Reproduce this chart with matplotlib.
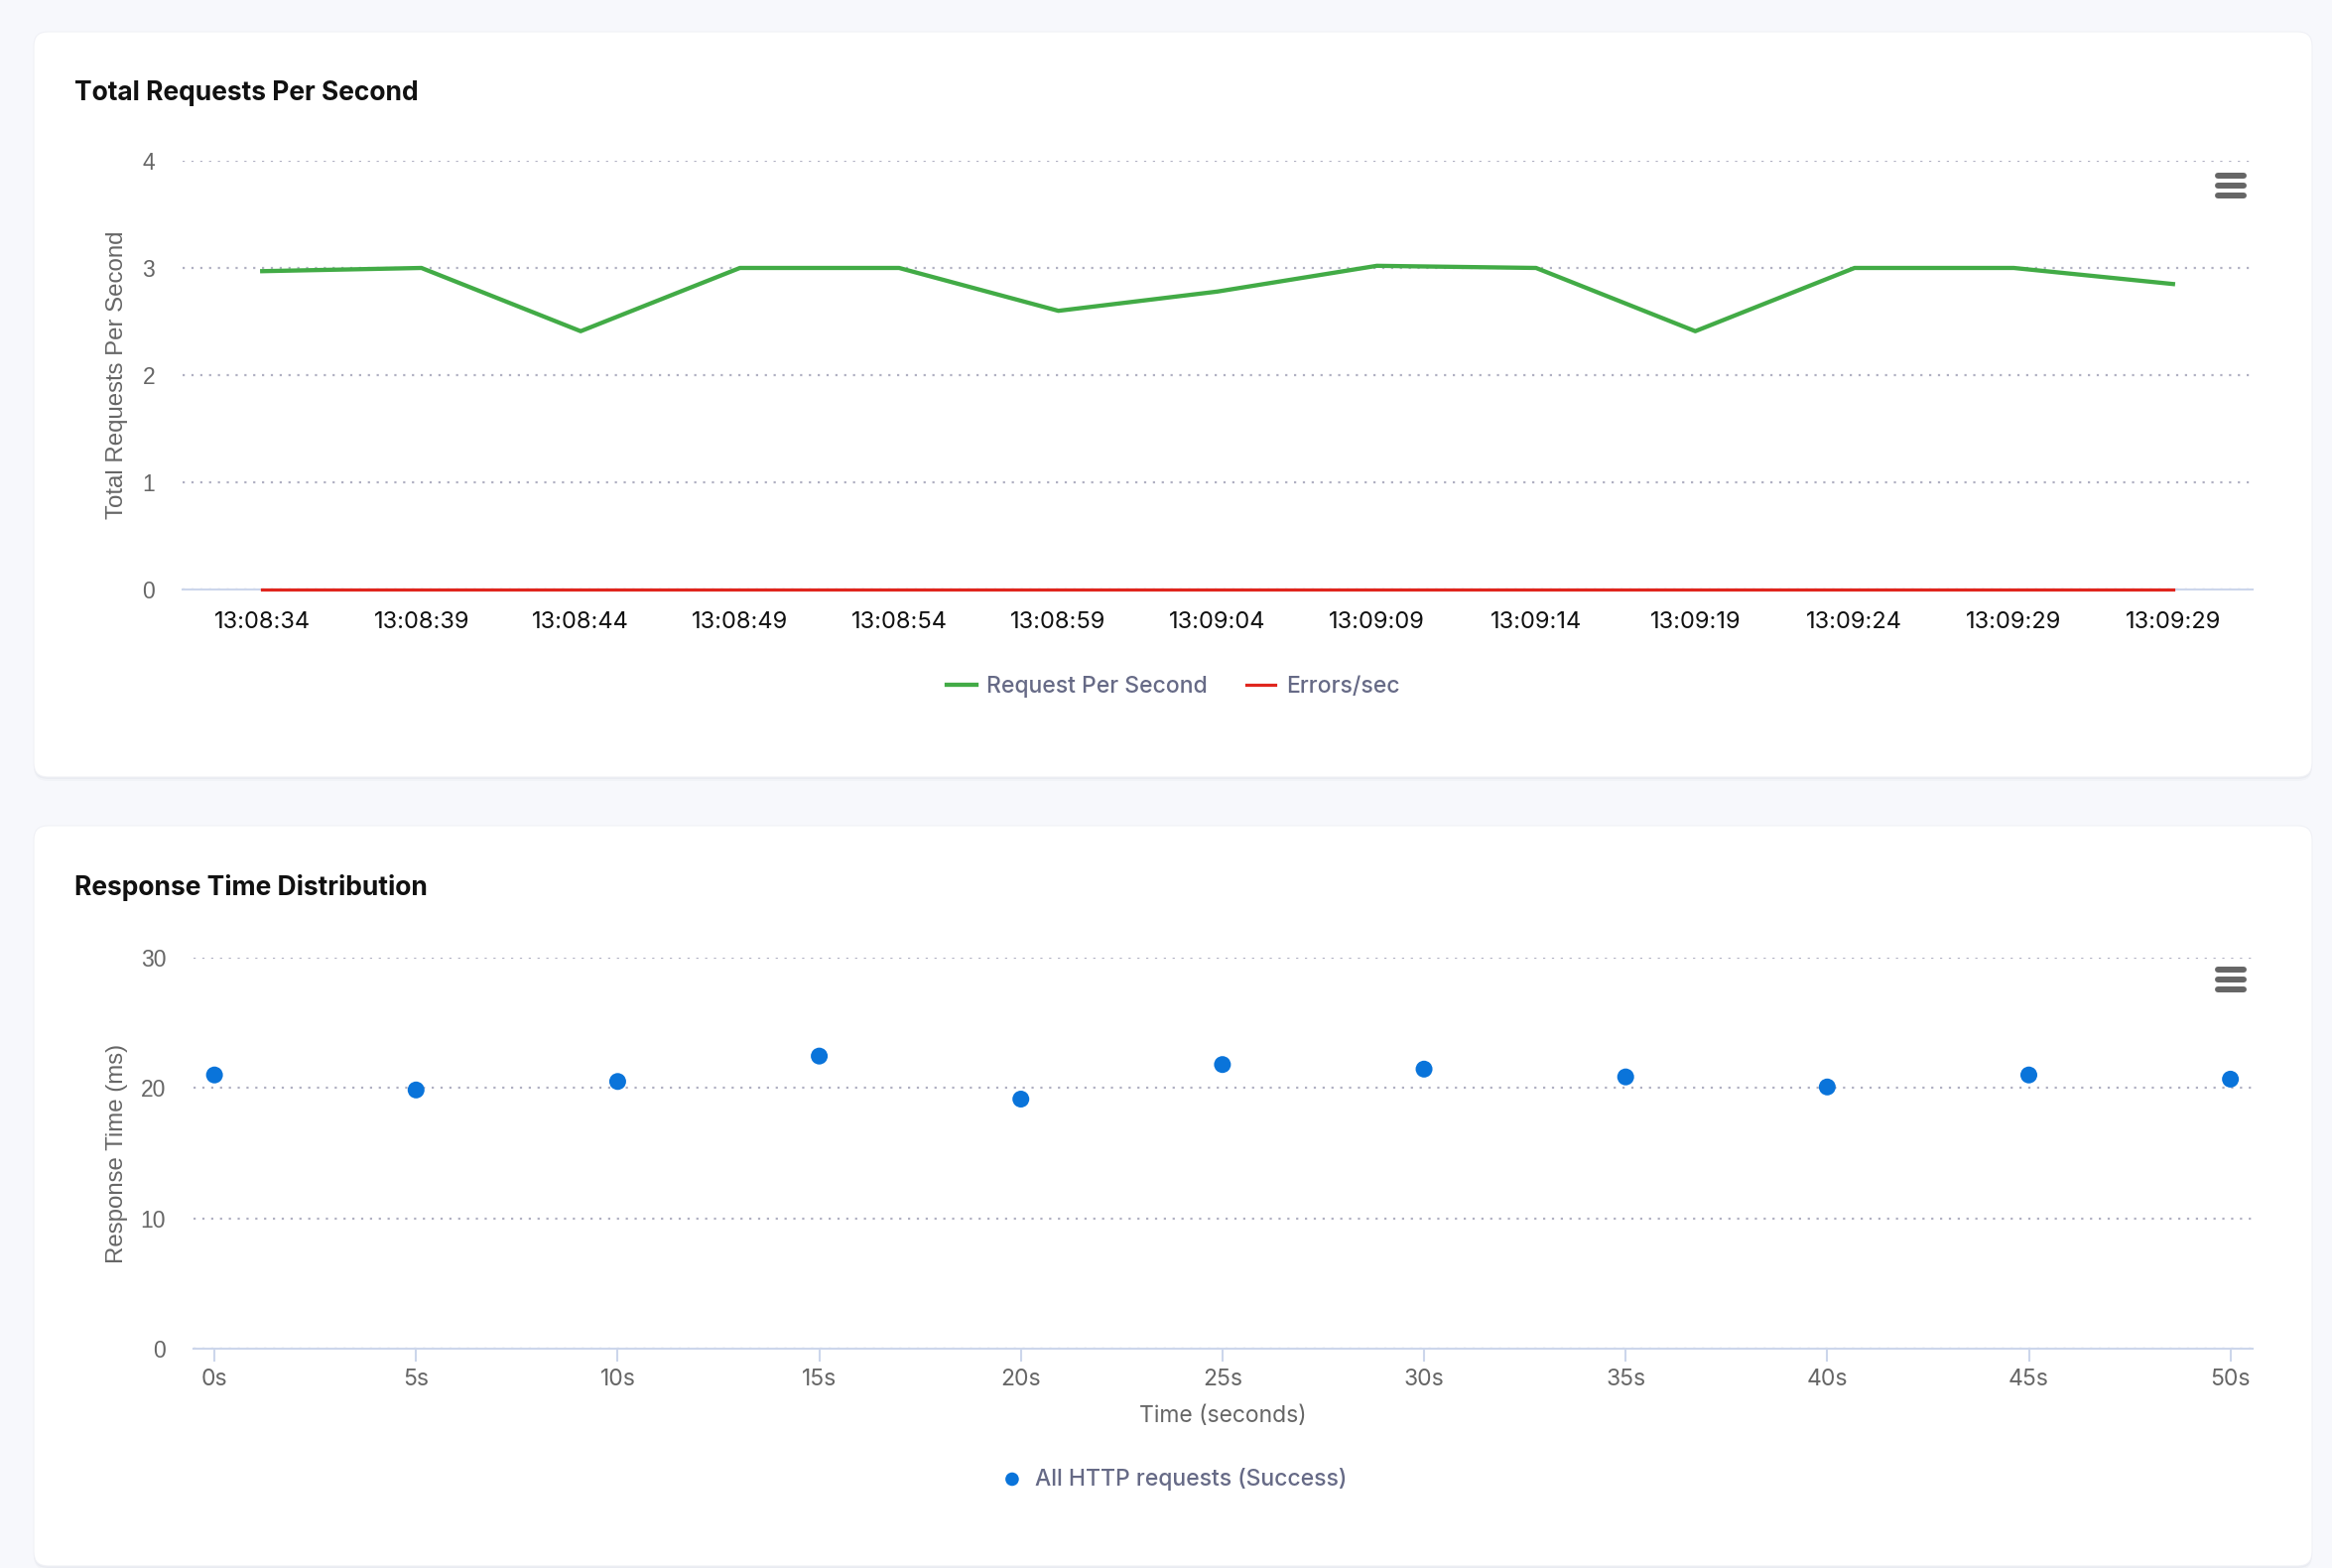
import numpy as np
import matplotlib.pyplot as plt
from matplotlib.patches import FancyBboxPatch
from matplotlib.lines import Line2D

# data
timeLabels = ['13:08:34', '13:08:39', '13:08:44', '13:08:49', '13:08:54', '13:08:59', '13:09:04',
              '13:09:09', '13:09:14', '13:09:19', '13:09:24', '13:09:29', '13:09:29']
reqPerSec = [2.97, 3.0, 2.41, 3.0, 3.0, 2.6, 2.78, 3.02, 3.0, 2.41, 3.0, 3.0, 2.85]
errPerSec = [0, 0, 0, 0, 0, 0, 0, 0, 0, 0, 0, 0, 0]

respSec = [0, 5, 10, 15, 20, 25, 30, 35, 40, 45, 50]
respMs = [21.0, 19.85, 20.5, 22.45, 19.15, 21.8, 21.45, 20.85, 20.08, 21.0, 20.68]

# style
W, H = 2350, 1580
bgCol = '#f7f8fc'
gridCol = '#b0b0c2'
axisCol = '#ccd6eb'
tickCol = '#666666'
legCol = '#666a86'
green = '#42ab46'
red = '#e0261e'
blue = '#0a74da'
font = 'Inter'
labFont = 'Liberation Sans'

fig = plt.figure(figsize=(W / 100, H / 100), dpi=100, facecolor=bgCol)


def px(x, y):
    # pixel (from top-left) -> figure fraction
    return x / W, 1 - y / H


def card(x0, y0, x1, y1):
    for off, a in [(4, 0.025), (2, 0.035)]:
        fx, fy = px(x0, y1 + off)
        sh = FancyBboxPatch((fx, fy), (x1 - x0) / W, (y1 - y0) / H,
                            boxstyle='round,pad=0,rounding_size=0.006',
                            transform=fig.transFigure, facecolor='#1e2850', alpha=a,
                            edgecolor='none', zorder=-3, mutation_aspect=W / H)
        fig.add_artist(sh)
    fx, fy = px(x0, y1)
    p = FancyBboxPatch((fx, fy), (x1 - x0) / W, (y1 - y0) / H,
                       boxstyle='round,pad=0,rounding_size=0.006',
                       transform=fig.transFigure, facecolor='white',
                       edgecolor='#f0f1f6', lw=0.8, zorder=-2, mutation_aspect=W / H)
    fig.add_artist(p)


def burger(cx, cy):
    for dy in (-10, 0, 10):
        x0, y = px(cx - 13, cy + dy)
        x1, _ = px(cx + 13, cy + dy)
        fig.add_artist(Line2D([x0, x1], [y, y], transform=fig.transFigure, color='#666666',
                              lw=4.3, solid_capstyle='round', zorder=5))


def style_axes(ax):
    for s in ['top', 'right', 'left']:
        ax.spines[s].set_visible(False)
    ax.spines['bottom'].set_color(axisCol)
    ax.spines['bottom'].set_linewidth(1.5)
    ax.grid(axis='y', color=gridCol, linestyle=(0, (1, 3)), linewidth=1.6)
    ax.set_axisbelow(True)
    ax.set_facecolor('none')
    ax.tick_params(axis='y', length=0, pad=20, labelsize=16.5, labelcolor=tickCol)
    for t in ax.get_yticklabels():
        t.set_family(labFont)


card(34, 32, 2330, 783)
card(34, 832, 2330, 1578)

# top chart
ax1 = fig.add_axes([184 / W, 1 - 594 / H, (2270 - 184) / W, (594 - 162) / H])
x = np.arange(len(timeLabels))
ax1.plot(x, reqPerSec, color=green, lw=3.1, label='Request Per Second', zorder=3)
ax1.plot(x, errPerSec, color=red, lw=2.3, label='Errors/sec', zorder=4, clip_on=False)
ax1.set_xlim(-0.5, len(timeLabels) - 0.5)
ax1.set_ylim(0, 4)
ax1.set_yticks([0, 1, 2, 3, 4])
ax1.set_xticks(x)
ax1.set_xticklabels(timeLabels, family=font, fontsize=17, color='#111111')
ax1.tick_params(axis='x', length=0, pad=16)
style_axes(ax1)
ax1.set_ylabel('Total Requests Per Second', family=labFont, fontsize=17.3, color=tickCol)
ax1.yaxis.set_label_coords(-0.0266, 0.5)

fx, fy = px(75, 94)
fig.text(fx, fy, 'Total Requests Per Second', family=font, fontweight='bold', fontsize=19,
         color='#111111', ha='left', va='center')
burger(2248, 187)

h, l = ax1.get_legend_handles_labels()
fx, fy = px(1182, 692)
leg1 = fig.legend(h, l, loc='center', bbox_to_anchor=(fx, fy), ncol=2, frameon=False,
                  prop={'family': font, 'size': 16.5, 'weight': 'medium'},
                  handlelength=1.3, handletextpad=0.45, columnspacing=1.7)
for t in leg1.get_texts():
    t.set_color(legCol)

# bottom chart
ax2 = fig.add_axes([195 / W, 1 - 1359 / H, (2270 - 195) / W, (1359 - 965) / H])
ax2.scatter(respSec, respMs, s=150, color=blue, edgecolor='none', zorder=3,
            label='All HTTP requests (Success)', clip_on=False)
ax2.set_xlim(-0.52, 50.55)
ax2.set_ylim(0, 30)
ax2.set_yticks([0, 10, 20, 30])
ax2.set_xticks(respSec)
ax2.set_xticklabels([str(s) + 's' for s in respSec], family=font, fontsize=16.5, color=tickCol)
ax2.tick_params(axis='x', length=9, width=1.5, color=axisCol, pad=5.5)
style_axes(ax2)
ax2.set_ylabel('Response Time (ms)', family=labFont, fontsize=17.3, color=tickCol)
ax2.yaxis.set_label_coords(-0.0316, 0.5)
ax2.set_xlabel('Time (seconds)', family=font, fontsize=16.5, color=tickCol)
ax2.xaxis.set_label_coords(0.5, -0.145)

fx, fy = px(75, 894)
fig.text(fx, fy, 'Response Time Distribution', family=font, fontweight='bold', fontsize=19,
         color='#111111', ha='left', va='center')
burger(2248, 987)

h, l = ax2.get_legend_handles_labels()
fx, fy = px(1184, 1490)
leg2 = fig.legend(h, l, loc='center', bbox_to_anchor=(fx, fy), frameon=False,
                  prop={'family': font, 'size': 16.5, 'weight': 'medium'},
                  handlelength=0.8, handletextpad=0.6, markerscale=0.8)
for t in leg2.get_texts():
    t.set_color(legCol)

plt.savefig('out.png', dpi=100, facecolor=bgCol)
